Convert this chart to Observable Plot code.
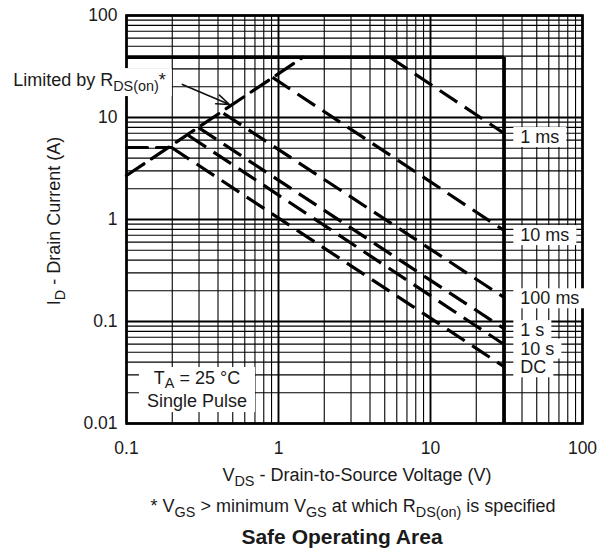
<!DOCTYPE html>
<html><head><meta charset="utf-8">
<script src="https://cdn.jsdelivr.net/npm/d3@7"></script>
<script src="https://cdn.jsdelivr.net/npm/@observablehq/plot@0.6"></script>
<style>
html,body{margin:0;padding:0;background:#fff;}
#wrap{position:relative;width:602px;height:550px;font-family:"Liberation Sans",Arial,Helvetica,sans-serif;color:#1a1a1a;}
#wrap svg{display:block;}
.note{position:absolute;white-space:nowrap;transform:translateX(-50%);}
#foot{left:353px;top:497px;font-size:18px;line-height:18px;}
#title{left:342px;top:526px;font-size:21px;line-height:21px;font-weight:bold;}
.sub{font-size:0.8em;position:relative;top:5px;}
</style></head>
<body>
<div id="wrap">
<div id="foot" class="note">* V<span class="sub">GS</span> &gt; minimum V<span class="sub">GS</span> at which R<span class="sub">DS(on)</span> is specified</div>
<div id="title" class="note">Safe Operating Area</div>
</div>
<script>
// ---- data ----
const xTicks = [0.1, 1, 10, 100];
const xTickLabels = ["0.1", "1", "10", "100"];
const yTicks = [0.01, 0.1, 1, 10, 100];
const yTickLabels = ["0.01", "0.1", "1", "10", "100"];
const xMinor = [0.2,0.3,0.4,0.5,0.6,0.7,0.8,0.9, 2,3,4,5,6,7,8,9, 20,30,40,50,60,70,80,90];
const yMinor = [0.02,0.03,0.04,0.05,0.06,0.07,0.08,0.09, 0.2,0.3,0.4,0.5,0.6,0.7,0.8,0.9, 2,3,4,5,6,7,8,9, 20,30,40,50,60,70,80,90];

const limitCurrent = 39;     // A
const limitVoltage = 30.5;   // V

const rdsV = [0.1, 1.45];
const rdsI = [2.7, 39];

const dcFlatV = [0.1, 0.198];
const dcFlatI = [5.08, 5.08];

const pulseNames = ["1 ms", "10 ms", "100 ms", "1 s", "10 s", "DC"];
const peakV = [5.4, 0.913, 0.435, 0.298, 0.256, 0.198];
const peakI = [39, 24.7, 10.96, 7.96, 6.66, 5.08];
const endV  = [30.5, 30.5, 30.5, 30.5, 30.5, 30.5];
const endI  = [7.0, 0.78, 0.172, 0.085, 0.0595, 0.036];
const labelV = [39, 39, 39, 39, 39, 39];
const labelI = [6.4, 0.70, 0.168, 0.082, 0.054, 0.0354];

const noteV = 0.0181, noteI = 20.1;
const arrowFromV = 0.233, arrowFromI = 21.1;
const arrowToV = 0.476, arrowToI = 13.4;
const condV = 0.293;
const condI = 0.0241;
const condLines = [[["T",null],["A","sub"],[" = 25 °C",null]], [["Single Pulse",null]]];

// ---- tables ----
const rds = rdsV.map((v,k)=>({v, i: rdsI[k]}));
const dcFlat = dcFlatV.map((v,k)=>({v, i: dcFlatI[k]}));
const pulses = pulseNames.map((name,k)=>({name, pv: peakV[k], pi: peakI[k], ev: endV[k], ei: endI[k], lv: labelV[k], li: labelI[k]}));
const arrowData = [{x1: arrowFromV, y1: arrowFromI, x2: arrowToV, y2: arrowToI}];

const dash = "21,9";
const ink = "#000";
const font = '"Liberation Sans", Arial, Helvetica, sans-serif';

const chart = Plot.plot({
  width: 602, height: 490,
  marginLeft: 126, marginRight: 20, marginTop: 15, marginBottom: 67,
  x: {type: "log", domain: [0.1, 100]},
  y: {type: "log", domain: [0.01, 100]},
  style: {fontFamily: font, fontSize: "17.5px", color: "#1a1a1a", background: "#fff", overflow: "visible"},
  marks: [
    Plot.ruleX(xMinor, {stroke: ink, strokeWidth: 1.1}),
    Plot.ruleY(yMinor, {stroke: ink, strokeWidth: 1.1}),
    Plot.ruleX(xTicks, {stroke: ink, strokeWidth: 1.9}),
    Plot.ruleY(yTicks, {stroke: ink, strokeWidth: 1.9}),
    Plot.frame({stroke: ink, strokeWidth: 2.6}),
    Plot.ruleY([limitCurrent], {x1: xTicks[0], x2: limitVoltage, stroke: ink, strokeWidth: 3.6}),
    Plot.ruleX([limitVoltage], {y1: yTicks[0], y2: limitCurrent, stroke: ink, strokeWidth: 3.6}),
    Plot.line(rds, {x: "v", y: "i", stroke: ink, strokeWidth: 3.2, strokeDasharray: dash}),
    Plot.line(dcFlat, {x: "v", y: "i", stroke: ink, strokeWidth: 3.2, strokeDasharray: dash}),
    Plot.link(pulses, {x1: "pv", y1: "pi", x2: "ev", y2: "ei", stroke: ink, strokeWidth: 3.2, strokeDasharray: dash}),
    Plot.arrow(arrowData, {x1: "x1", y1: "y1", x2: "x2", y2: "y2", stroke: "#111", strokeWidth: 1.6, headLength: 13, headAngle: 40}),
    Plot.text(pulses, {x: "lv", y: "li", text: "name", textAnchor: "start", fill: "#1a1a1a", fontSize: 18}),
    Plot.axisX({ticks: xTicks, tickFormat: d => xTickLabels[xTicks.indexOf(d)], tickSize: 0, tickPadding: 18, label: null}),
    Plot.axisY({ticks: yTicks, tickFormat: d => yTickLabels[yTicks.indexOf(d)], tickSize: 0, tickPadding: 9, label: null})
  ]
});

const wrap = document.getElementById("wrap");
wrap.insertBefore(chart, wrap.firstChild);
const svg = d3.select(chart);
const sx = chart.scale("x"), sy = chart.scale("y");
const NS = "http://www.w3.org/2000/svg";

// lines: array of lines, each an array of [string, kind]
function rich(lines, attrs, lineGap = 23, subShift = 5) {
  const t = svg.append("text").attr("font-family", font).attr("fill", "#1a1a1a").attr("font-size", 18);
  for (const k in attrs) t.attr(k, attrs[k]);
  let off = 0;
  lines.forEach((parts, li) => {
    parts.forEach(([s, kind], pi) => {
      const target = kind === "sub" ? subShift : 0;
      const ts = t.append("tspan").text(s);
      let dy = target - off;
      if (li > 0 && pi === 0) { dy += lineGap; ts.attr("x", attrs.x); }
      if (dy !== 0) ts.attr("dy", dy);
      if (kind === "sub") ts.attr("font-size", "0.8em");
      off = target;
    });
  });
  return t.node();
}

function boxBehind(node, padX, padY, before) {
  const sr = chart.getBoundingClientRect();
  const r = node.getBoundingClientRect();
  const rect = document.createElementNS(NS, "rect");
  rect.setAttribute("x", r.left - sr.left - padX); rect.setAttribute("y", r.top - sr.top - padY);
  rect.setAttribute("width", r.width + 2 * padX); rect.setAttribute("height", r.height + 2 * padY);
  rect.setAttribute("fill", "#fff");
  before.parentNode.insertBefore(rect, before);
}

// boxes behind pulse labels
Array.from(chart.querySelectorAll("text"))
  .filter(t => pulseNames.includes(t.textContent))
  .forEach(t => {
    let g = t;
    while (g.parentNode !== chart) g = g.parentNode;
    boxBehind(t, 7, 0, g);
  });

// axis titles
const yMid = (sy.apply(yTicks[0]) + sy.apply(yTicks[yTicks.length - 1])) / 2;
rich([[["I", null], ["D", "sub"], [" - Drain Current (A)", null]]],
  {"text-anchor": "middle", transform: `translate(60,${yMid + 2}) rotate(-90)`});
const xMid = (sx.apply(xTicks[0]) + sx.apply(xTicks[xTicks.length - 1])) / 2;
rich([[["V", null], ["DS", "sub"], [" - Drain-to-Source Voltage (V)", null]]],
  {"text-anchor": "middle", x: xMid + 3, y: 481});

// Limited by RDS(on)
const note = rich([[["Limited by R", null], ["DS(on)", "sub"], ["*", null]]],
  {x: sx.apply(noteV), y: sy.apply(noteI), "text-anchor": "start"});
boxBehind(note, 6, 2, note);

// Conditions box
const cond = rich(condLines, {x: sx.apply(condV), y: sy.apply(condI), "text-anchor": "middle"}, 23, 3.5);
boxBehind(cond, 8, 1, cond);
</script>
</body></html>
